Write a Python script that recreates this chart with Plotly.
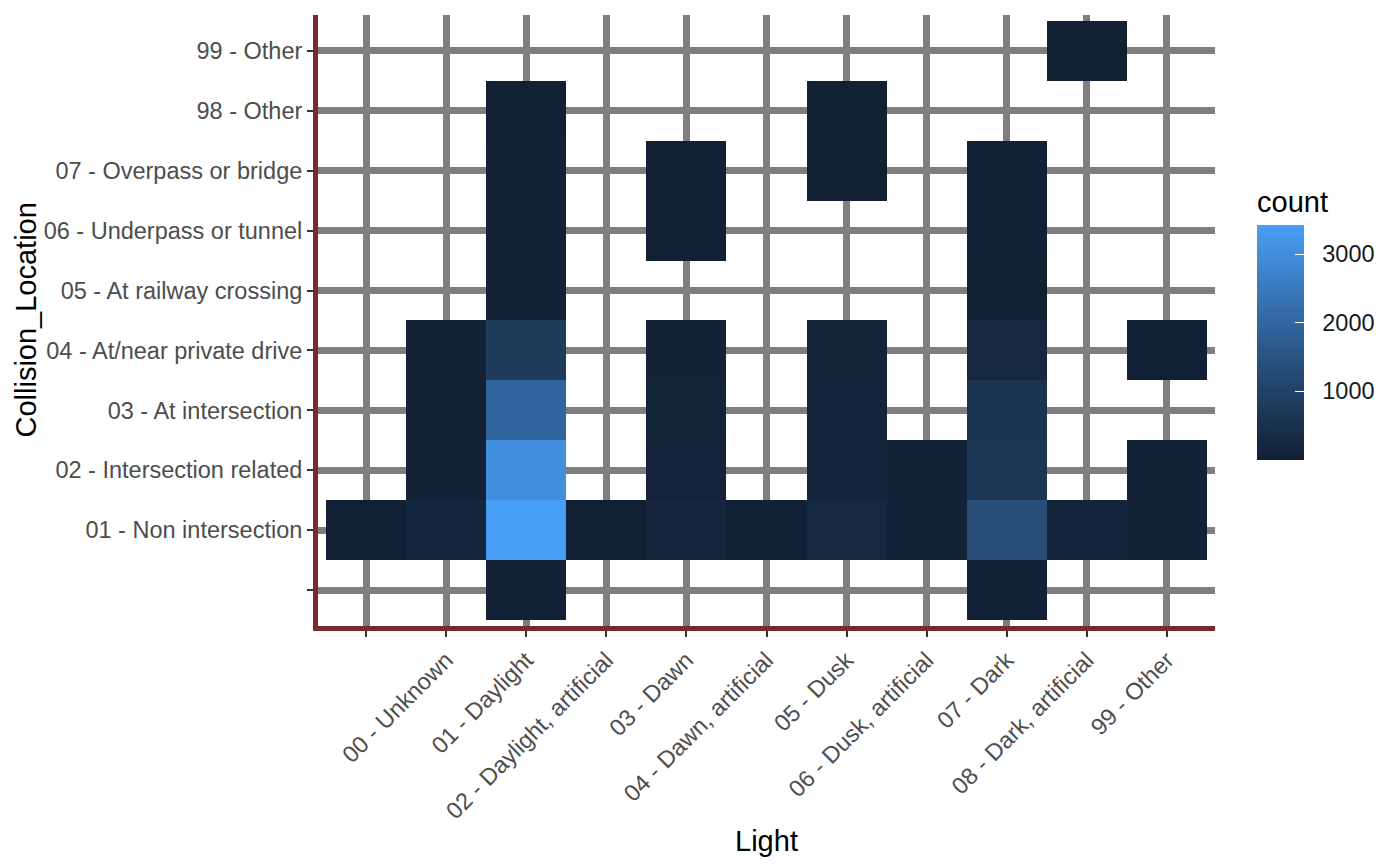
import plotly.graph_objects as go

# ---- data ----
light_categories = ["", "00 - Unknown", "01 - Daylight", "02 - Daylight, artificial",
                    "03 - Dawn", "04 - Dawn, artificial", "05 - Dusk",
                    "06 - Dusk, artificial", "07 - Dark", "08 - Dark, artificial", "99 - Other"]
location_categories = ["", "01 - Non intersection", "02 - Intersection related",
                       "03 - At intersection", "04 - At/near private drive",
                       "05 - At railway crossing", "06 - Underpass or tunnel",
                       "07 - Overpass or bridge", "98 - Other", "99 - Other"]

N = None
# rows follow location_categories, columns follow light_categories
row_blank      = [N, N, 30, N, N, N, N, N, 20, N, N]
row_non_int    = [15, 230, 3430, 10, 160, 40, 240, 60, 1360, 110, 70]
row_int_rel    = [N, 50, 3050, N, 110, N, 140, 25, 640, N, 35]
row_at_int     = [N, 45, 1930, N, 90, N, 95, N, 600, N, N]
row_private    = [N, 30, 820, N, 60, N, 80, N, 250, N, 15]
row_railway    = [N, N, 20, N, N, N, N, N, 8, N, N]
row_underpass  = [N, N, 25, N, 3, N, N, N, 12, N, N]
row_overpass   = [N, N, 70, N, 4, N, 6, N, 30, N, N]
row_other98    = [N, N, 10, N, N, N, 2, N, N, N, N]
row_other99    = [N, N, N, N, N, N, N, N, N, 1, N]

counts = [row_blank, row_non_int, row_int_rel, row_at_int, row_private,
          row_railway, row_underpass, row_overpass, row_other98, row_other99]

colorbar_ticks = [1000, 2000, 3000]

# ---- colour scale (Lab interpolation like ggplot) ----
LOW, HIGH = "#122034", "#489FF6"

def hex2rgb(h):
    h = h.lstrip("#")
    return [int(h[i:i + 2], 16) / 255 for i in (0, 2, 4)]

def srgb2lin(c):
    return c / 12.92 if c <= 0.04045 else ((c + 0.055) / 1.055) ** 2.4

def lin2srgb(c):
    c = max(0.0, min(1.0, c))
    return 12.92 * c if c <= 0.0031308 else 1.055 * c ** (1 / 2.4) - 0.055

WP = (0.95047, 1.0, 1.08883)

def rgb2lab(rgb):
    r, g, b = [srgb2lin(c) for c in rgb]
    X = 0.4124 * r + 0.3576 * g + 0.1805 * b
    Y = 0.2126 * r + 0.7152 * g + 0.0722 * b
    Z = 0.0193 * r + 0.1192 * g + 0.9505 * b
    def f(t):
        return t ** (1 / 3) if t > 0.008856 else 7.787 * t + 16 / 116
    fx, fy, fz = f(X / WP[0]), f(Y / WP[1]), f(Z / WP[2])
    return (116 * fy - 16, 500 * (fx - fy), 200 * (fy - fz))

def lab2rgb(lab):
    L, a, b = lab
    fy = (L + 16) / 116
    fx = fy + a / 500
    fz = fy - b / 200
    def finv(t):
        return t ** 3 if t ** 3 > 0.008856 else (t - 16 / 116) / 7.787
    X, Y, Z = finv(fx) * WP[0], finv(fy) * WP[1], finv(fz) * WP[2]
    r = 3.2406 * X - 1.5372 * Y - 0.4986 * Z
    g = -0.9689 * X + 1.8758 * Y + 0.0415 * Z
    bb = 0.0557 * X - 0.2040 * Y + 1.0570 * Z
    return "rgb(%d,%d,%d)" % tuple(round(lin2srgb(c) * 255) for c in (r, g, bb))

lab_lo, lab_hi = rgb2lab(hex2rgb(LOW)), rgb2lab(hex2rgb(HIGH))
steps = 10
colorscale = []
for i in range(steps + 1):
    t = i / steps
    lab = tuple(lab_lo[k] + (lab_hi[k] - lab_lo[k]) * t for k in range(3))
    colorscale.append([t, lab2rgb(lab)])

# ---- figure ----
x_idx = list(range(len(light_categories)))
y_idx = list(range(len(location_categories)))
flat = [v for row in counts for v in row if v is not None]

W, H = 1400, 865
L_M, R_M, T_M, B_M = 318, 185, 15, 237
pw, ph = W - L_M - R_M, H - T_M - B_M

TICK_SIZE = 23.5
TITLE_SIZE = 29
NBSP = "\u00a0"

fig = go.Figure(go.Heatmap(
    x=x_idx, y=y_idx, z=counts,
    colorscale=colorscale, zmin=min(flat), zmax=max(flat),
    hoverongaps=False,
    colorbar=dict(
        title=dict(text="count", side="top", font=dict(size=TITLE_SIZE, color="#000000")),
        tickvals=colorbar_ticks,
        ticktext=[NBSP * 2 + str(v) for v in colorbar_ticks],
        ticks="inside", ticklen=9, tickwidth=1.2,
        tickcolor="#ffffff", outlinewidth=0,
        tickfont=dict(size=TICK_SIZE, color="#1a1a1a"),
        thickness=47, thicknessmode="pixels",
        len=272, lenmode="pixels",
        x=(1257 - L_M) / pw, xanchor="left", xpad=0,
        y=(T_M + ph - 461) / ph, yanchor="bottom", ypad=0,
    ),
))

fig.update_layout(
    width=W, height=H,
    margin=dict(l=L_M, r=R_M, t=T_M, b=B_M),
    paper_bgcolor="white", plot_bgcolor="white",
    font=dict(family="Liberation Sans, Arial, sans-serif"),
    showlegend=False,
    annotations=[dict(
        text="Collision_Location", textangle=-90,
        xref="paper", yref="paper", x=(25 - L_M) / pw, y=0.5,
        xanchor="center", yanchor="middle", showarrow=False,
        font=dict(size=TITLE_SIZE, color="#000000"),
    )],
)

fig.update_xaxes(
    range=[-0.6, len(light_categories) - 1 + 0.6],
    tickmode="array", tickvals=x_idx, ticktext=light_categories,
    tickangle=-45, tickfont=dict(size=TICK_SIZE, color="#4d4d4d"),
    showgrid=True, gridcolor="#7f7f7f", gridwidth=7,
    zeroline=False,
    showline=True, linecolor="#782a2e", linewidth=5,
    ticks="outside", ticklen=6, tickwidth=2, tickcolor="#333333",
    title=dict(text="Light", font=dict(size=TITLE_SIZE, color="#000000"), standoff=9),
)
fig.update_yaxes(
    range=[-0.6, len(location_categories) - 1 + 0.6],
    tickmode="array", tickvals=y_idx, ticktext=location_categories,
    tickfont=dict(size=TICK_SIZE, color="#4d4d4d"),
    showgrid=True, gridcolor="#7f7f7f", gridwidth=7,
    zeroline=False,
    showline=True, linecolor="#782a2e", linewidth=5,
    ticks="outside", ticklen=6, tickwidth=2, tickcolor="#333333",
)

fig.write_html("out.html")
